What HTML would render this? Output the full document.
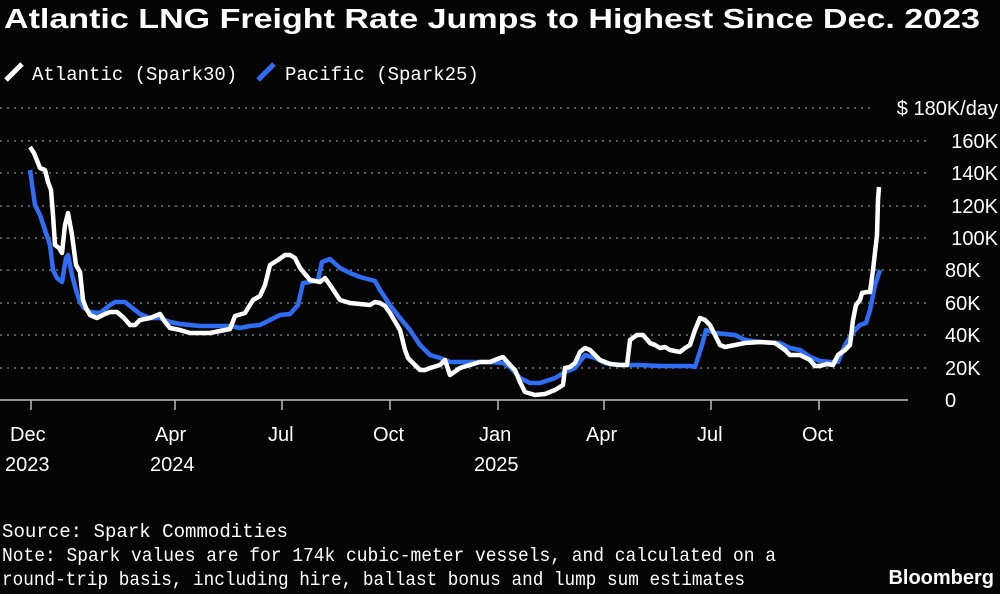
<!DOCTYPE html>
<html><head><meta charset="utf-8"><style>
html,body{margin:0;padding:0;background:#050505;}
svg{display:block;}
</style></head><body>
<svg width="1000" height="594" xmlns="http://www.w3.org/2000/svg" style="background:#050505">
<text x="4" y="28" font-family="Liberation Sans, sans-serif" font-weight="bold" font-size="28" fill="#fff" textLength="976" lengthAdjust="spacingAndGlyphs">Atlantic LNG Freight Rate Jumps to Highest Since Dec. 2023</text>
<line x1="6" y1="80" x2="22" y2="64" stroke="#fff" stroke-width="5"/>
<text x="32" y="80" font-family="Liberation Mono, monospace" font-size="19" fill="#fff">Atlantic (Spark30)</text>
<line x1="258" y1="80" x2="274" y2="64" stroke="#2f6df5" stroke-width="5"/>
<text x="285" y="80" font-family="Liberation Mono, monospace" font-size="19" fill="#fff">Pacific (Spark25)</text>
<g stroke="#777" stroke-width="1.5" stroke-dasharray="2,5">
<line x1="0" y1="108" x2="870" y2="108"/>
<line x1="0" y1="141" x2="930" y2="141"/>
<line x1="0" y1="173" x2="930" y2="173"/>
<line x1="0" y1="206" x2="930" y2="206"/>
<line x1="0" y1="238" x2="930" y2="238"/>
<line x1="0" y1="270" x2="930" y2="270"/>
<line x1="0" y1="303" x2="930" y2="303"/>
<line x1="0" y1="335" x2="930" y2="335"/>
<line x1="0" y1="368" x2="930" y2="368"/>
</g>
<line x1="0" y1="400" x2="908" y2="400" stroke="#bbb" stroke-width="1.5"/>
<g stroke="#bbb" stroke-width="1.5">
<line x1="31" y1="400" x2="31" y2="410"/><line x1="175" y1="400" x2="175" y2="410"/>
<line x1="282" y1="400" x2="282" y2="410"/><line x1="390" y1="400" x2="390" y2="410"/>
<line x1="604" y1="400" x2="604" y2="410"/><line x1="711" y1="400" x2="711" y2="410"/>
<line x1="819" y1="400" x2="819" y2="410"/><line x1="498" y1="400" x2="498" y2="410"/>
</g>
<g font-family="Liberation Sans, sans-serif" font-size="20" fill="#fff">
<text x="998" y="115" text-anchor="end">$ 180K/day</text>
<text x="998" y="148" text-anchor="end">160K</text>
<text x="998" y="180" text-anchor="end">140K</text>
<text x="998" y="213" text-anchor="end">120K</text>
<text x="998" y="245" text-anchor="end">100K</text>
<text x="945" y="277">80K</text>
<text x="945" y="310">60K</text>
<text x="945" y="342">40K</text>
<text x="945" y="375">20K</text>
<text x="945" y="407">0</text>
<text x="10" y="441">Dec</text><text x="5" y="471">2023</text>
<text x="155" y="441">Apr</text><text x="150" y="471">2024</text>
<text x="268" y="441">Jul</text>
<text x="373" y="441">Oct</text>
<text x="479" y="441">Jan</text><text x="474" y="471">2025</text>
<text x="586" y="441">Apr</text>
<text x="697" y="441">Jul</text>
<text x="802" y="441">Oct</text>
</g>
<polyline fill="none" stroke="#2f6df5" stroke-width="4.5" stroke-linejoin="round" points="30,170 35,205 40,215 45,230 50,245 53,270 57,278 62,282 66,258 68,255 72,275 76,290 80,302 84,308 90,312 100,313 110,305 115,302 125,302 130,306 140,314 150,318 160,318 170,322 180,324 200,326 210,326 230,326 240,328 250,326 260,325 270,320 280,315 290,314 298,305 303,283 310,282 318,280 322,262 330,259 340,268 350,273 360,277 375,281 380,290 390,305 400,318 410,330 420,345 430,355 440,358 450,362 470,362 490,362 503,363 510,367 520,378 530,383 540,383 555,378 565,372 575,368 585,355 595,358 605,363 620,365 640,365 660,366 690,366 695,367 702,345 706,330 715,333 735,335 745,340 760,342 780,343 790,348 800,350 810,357 820,361 830,362 838,362 845,345 850,337 855,330 860,325 866,323 870,310 875,285 880,270"/>
<polyline fill="none" stroke="#fff" stroke-width="4.5" stroke-linejoin="round" points="30,147 34,153 40,168 45,170 48,182 51,190 53,215 55,245 59,248 62,253 65,225 68,213 72,235 76,265 80,272 83,300 86,308 90,315 97,318 105,314 110,312 117,312 124,318 130,325 135,325 140,320 150,318 160,314 165,322 170,328 180,330 190,333 200,333 210,333 220,331 230,329 235,316 245,313 253,300 260,296 265,285 270,265 278,260 285,255 290,255 295,258 300,268 310,280 320,282 325,278 330,285 340,300 350,303 360,304 370,305 375,302 380,303 385,306 390,313 400,330 405,350 408,358 415,365 420,370 425,370 430,368 440,365 445,360 450,375 460,368 470,365 480,362 490,362 500,358 503,357 510,365 515,370 520,382 525,392 535,395 545,394 555,390 563,385 565,368 570,367 575,363 580,352 585,348 590,350 595,355 600,360 610,364 620,365 627,365 630,340 637,335 643,335 650,343 655,345 660,348 665,347 670,350 680,352 685,348 690,345 695,330 700,318 705,320 710,325 715,335 720,345 725,347 735,345 745,343 760,342 775,343 785,350 790,355 800,355 810,360 815,366 820,366 827,364 833,365 838,355 845,350 850,345 853,320 856,305 860,300 862,293 867,292 870,292 873,270 877,235 878,200 879,187"/>
<g font-family="Liberation Mono, monospace" font-size="19" fill="#fff">
<text x="2" y="537" textLength="286" lengthAdjust="spacingAndGlyphs">Source: Spark Commodities</text>
<text x="2" y="561" textLength="774" lengthAdjust="spacingAndGlyphs">Note: Spark values are for 174k cubic-meter vessels, and calculated on a</text>
<text x="2" y="585" textLength="743" lengthAdjust="spacingAndGlyphs">round-trip basis, including hire, ballast bonus and lump sum estimates</text>
</g>
<text x="994" y="584" text-anchor="end" font-family="Liberation Sans, sans-serif" font-weight="bold" font-size="20" fill="#fff">Bloomberg</text>
</svg>
</body></html>
